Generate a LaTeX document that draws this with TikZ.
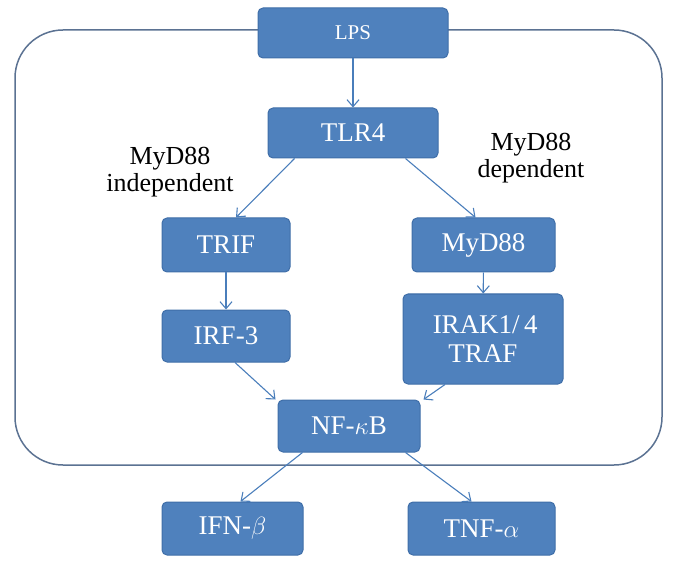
\documentclass[tikz,border=0pt]{standalone}
\usepackage{fontspec}
\setmainfont{Liberation Serif}
\usetikzlibrary{arrows.meta}
\definecolor{boxfill}{HTML}{4F81BD}
\definecolor{boxline}{HTML}{3F6EA8}
\definecolor{arrowc}{HTML}{4A7EBB}
\definecolor{framec}{HTML}{5B7292}
\tikzset{
  pbox/.style={draw=boxline, line width=1pt, fill=boxfill, rounded corners=5pt,
    text=white, font=\fontsize{27}{29}\selectfont, align=center, inner sep=0pt},
  conn/.style={draw=arrowc, line width=1.1pt, -{Straight Barb[length=7pt,width=12pt]}},
  lbl/.style={font=\fontsize{26}{27}\selectfont, align=center, text=black}
}
\begin{document}
\begin{tikzpicture}[x=1pt,y=-1pt]
\useasboundingbox (0,0) rectangle (675,564);
\node[draw=framec, line width=1.5pt, rounded corners=48pt, minimum width=647pt, minimum height=435pt, inner sep=0pt] (frame) at (338.5,247.5) {};
\node[pbox, minimum width=190pt, minimum height=50pt, font=\fontsize{21}{22}\selectfont] (lps) at (353,33) {LPS};
\node[pbox, minimum width=170pt, minimum height=50pt] (tlr) at (353,133) {TLR4};
\node[pbox, minimum width=128pt, minimum height=54pt] (trif) at (226,245) {TRIF};
\node[pbox, minimum width=143pt, minimum height=54pt] (myd) at (483.5,245) {MyD88};
\node[pbox, minimum width=128pt, minimum height=52pt] (irf) at (226,336) {IRF-3};
\node[pbox, minimum width=160pt, minimum height=90pt] (irak) at (483,339) {\,IRAK1/\,4\\TRAF};
\node[pbox, minimum width=142pt, minimum height=52pt] (nfkb) at (349,426) {NF-$\kappa$B};
\node[pbox, minimum width=141pt, minimum height=53pt] (ifn) at (232.5,528.5) {IFN-$\beta$};
\node[pbox, minimum width=147pt, minimum height=53pt] (tnf) at (481.5,528.5) {TNF-$\alpha$};
\node[lbl] (lind) at (170,172) {MyD88\\independent};
\node[lbl] (ldep) at (531,158) {MyD88\\dependent};
\draw[conn] (lps) -- (tlr);
\coordinate (a1) at ([xshift=27pt]tlr.south west);
\coordinate (b1) at ([xshift=10pt]trif.north);
\draw[conn] (a1) -- (b1);
\draw[conn] (trif) -- (irf);
\draw[conn] (myd) -- (irak);
\coordinate (a2) at ([xshift=-33pt]tlr.south east);
\coordinate (b2) at ([xshift=-8pt]myd.north);
\draw[conn] (a2) -- (b2);
\coordinate (a3) at ([xshift=9pt]irf.south);
\coordinate (b3) at ([xshift=-2pt]nfkb.north west);
\draw[conn] (a3) -- (b3);
\coordinate (a4) at ([xshift=-38pt]irak.south);
\coordinate (b4) at ([xshift=3pt]nfkb.north east);
\draw[conn] (a4) -- (b4);
\coordinate (a5) at ([xshift=25pt]nfkb.south west);
\coordinate (b5) at ([xshift=8pt]ifn.north);
\draw[conn] (a5) -- (b5);
\coordinate (a6) at ([xshift=-15pt]nfkb.south east);
\coordinate (b6) at ([xshift=-10pt]tnf.north);
\draw[conn] (a6) -- (b6);
\end{tikzpicture}
\end{document}
